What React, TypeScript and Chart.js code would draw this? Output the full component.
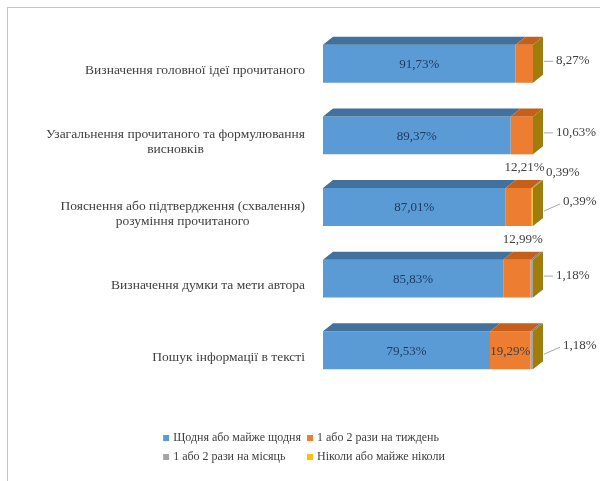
import React, { useEffect, useRef } from "react";
import { Chart, registerables } from "chart.js";

Chart.register(...registerables);

// ---- data ----
const categories: string[][] = [
  ["Визначення головної ідеї прочитаного"],
  ["Узагальнення прочитаного та формулювання", "висновків"],
  ["Пояснення або підтвердження (схвалення)", "розуміння прочитаного"],
  ["Визначення думки та мети автора"],
  ["Пошук інформації в тексті"],
];
const seriesNames = [
  "Щодня або майже щодня",
  "1 або 2 рази на тиждень",
  "1 або 2 рази на місяць",
  "Ніколи або майже ніколи",
];
const daily = [91.73, 89.37, 87.01, 85.83, 79.53];
const weekly = [8.27, 10.63, 12.21, 12.99, 19.29];
const monthly = [0, 0, 0.39, 1.18, 1.18];
const never = [0, 0, 0.39, 0, 0];

// label placement per series (style only)
const dailyLabelPos = ["inside", "inside", "inside", "inside", "inside"];
const weeklyLabelPos = ["right", "right", "above", "above", "inside"];
const monthlyLabelPos = ["", "", "aboveRight", "right", "rightFar"];
const neverLabelPos = ["", "", "rightFar", "", ""];

const frontColors = ["#5B9BD5", "#ED7D31", "#A5A5A5", "#FFC000"];
const topColors = ["#41719C", "#C55F1A", "#7F7F7F", "#BF9000"];
const sideColor = "#A07D0A";
const DX = 10;
const DY = 8;
const FONT = '"Liberation Serif", "Times New Roman", serif';

const fmt = (v: number) => v.toFixed(2).replace(".", ",") + "%";

const threeD = {
  id: "threeD",
  afterDatasetsDraw(chart: any) {
    const ctx = chart.ctx;
    const n = chart.data.labels.length;
    ctx.save();
    for (let i = 0; i < n; i++) {
      let xEnd = -Infinity;
      let top = 0;
      let bottom = 0;
      chart.data.datasets.forEach((ds: any, d: number) => {
        const el = chart.getDatasetMeta(d).data[i];
        const v = ds.data[i];
        top = el.y - el.height / 2;
        bottom = el.y + el.height / 2;
        if (el.x > xEnd) xEnd = el.x;
        if (v <= 0) return;
        const l = Math.min(el.base, el.x);
        const r = Math.max(el.base, el.x);
        ctx.fillStyle = topColors[d];
        ctx.beginPath();
        ctx.moveTo(l, top);
        ctx.lineTo(r, top);
        ctx.lineTo(r + DX, top - DY);
        ctx.lineTo(l + DX, top - DY);
        ctx.closePath();
        ctx.fill();
      });
      ctx.fillStyle = sideColor;
      ctx.beginPath();
      ctx.moveTo(xEnd, top);
      ctx.lineTo(xEnd + DX, top - DY);
      ctx.lineTo(xEnd + DX, bottom - DY);
      ctx.lineTo(xEnd, bottom);
      ctx.closePath();
      ctx.fill();
    }
    ctx.restore();
  },
  afterDraw(chart: any) {
    const ctx = chart.ctx;
    const n = chart.data.labels.length;
    const positions = [dailyLabelPos, weeklyLabelPos, monthlyLabelPos, neverLabelPos];
    ctx.save();
    ctx.font = `13px ${FONT}`;
    ctx.textBaseline = "middle";
    for (let i = 0; i < n; i++) {
      let xEnd = -Infinity;
      chart.data.datasets.forEach((ds: any, d: number) => {
        const el = chart.getDatasetMeta(d).data[i];
        if (el.x > xEnd) xEnd = el.x;
      });
      chart.data.datasets.forEach((ds: any, d: number) => {
        const v = ds.data[i];
        const mode = positions[d][i];
        if (!(v > 0) || !mode) return;
        const el = chart.getDatasetMeta(d).data[i];
        const l = Math.min(el.base, el.x);
        const r = Math.max(el.base, el.x);
        const top = el.y - el.height / 2;
        const text = fmt(v);
        ctx.strokeStyle = "#A6A6A6";
        ctx.lineWidth = 1;
        if (mode === "inside") {
          ctx.fillStyle = d === 0 ? "#1F3B63" : "#404040";
          ctx.textAlign = "center";
          ctx.fillText(text, (l + r) / 2, el.y + 1);
        } else if (mode === "right") {
          const y = el.y - 3;
          const x = xEnd + DX + 13;
          ctx.beginPath();
          ctx.moveTo(xEnd + DX + 1, y + 0.5);
          ctx.lineTo(x - 3, y + 0.5);
          ctx.stroke();
          ctx.fillStyle = "#404040";
          ctx.textAlign = "left";
          ctx.fillText(text, x, y);
        } else if (mode === "rightFar") {
          const y = el.y - 5;
          const x = xEnd + DX + 20;
          ctx.beginPath();
          ctx.moveTo(xEnd + DX + 1, el.y + 4);
          ctx.lineTo(x - 3, y + 2);
          ctx.stroke();
          ctx.fillStyle = "#404040";
          ctx.textAlign = "left";
          ctx.fillText(text, x, y);
        } else if (mode === "above") {
          ctx.fillStyle = "#404040";
          ctx.textAlign = "center";
          ctx.fillText(text, (l + r) / 2 + 6, top - DY - 12);
        } else if (mode === "aboveRight") {
          ctx.fillStyle = "#404040";
          ctx.textAlign = "left";
          ctx.fillText(text, xEnd + DX + 3, top - DY - 7);
        }
      });
    }

    // category labels
    const ys = chart.scales.y;
    ctx.font = `13.5px ${FONT}`;
    ctx.fillStyle = "#404040";
    ctx.textAlign = "center";
    const labelRight = ys.right - 18;
    const lineH = 15;
    (chart.data.labels as string[][]).forEach((lines, i) => {
      const cy = ys.getPixelForTick(i) + 7;
      const maxW = Math.max(...lines.map((t) => ctx.measureText(t).width));
      const cx = labelRight - maxW / 2;
      lines.forEach((t, k) => {
        ctx.fillText(t, cx, cy + (k - (lines.length - 1) / 2) * lineH);
      });
    });

    // legend (2 x 2 grid)
    ctx.font = `12px ${FONT}`;
    const names = chart.data.datasets.map((ds: any) => ds.label);
    const box = 6;
    const gap = 4;
    const colW = Math.max(ctx.measureText(names[0]).width, ctx.measureText(names[2]).width) + box + gap + 6;
    const col2W = Math.max(ctx.measureText(names[1]).width, ctx.measureText(names[3]).width) + box + gap;
    const totalW = colW + col2W;
    const x0 = chart.width / 2 - totalW / 2;
    const rows = [chart.chartArea.bottom + 52, chart.chartArea.bottom + 71];
    ctx.textAlign = "left";
    names.forEach((name: string, k: number) => {
      const col = k % 2;
      const row = Math.floor(k / 2);
      const x = x0 + col * colW;
      const y = rows[row];
      ctx.fillStyle = frontColors[k];
      ctx.fillRect(x, y - box / 2, box, box);
      ctx.fillStyle = "#404040";
      ctx.fillText(name, x + box + gap, y);
    });
    ctx.restore();
  },
};

export default function App() {
  const ref = useRef<HTMLCanvasElement>(null);
  useEffect(() => {
    const seriesValues = [daily, weekly, monthly, never];
    const chart = new Chart(ref.current as HTMLCanvasElement, {
      type: "bar",
      data: {
        labels: categories as any,
        datasets: seriesValues.map((vals, d) => ({
          label: seriesNames[d],
          data: vals,
          backgroundColor: frontColors[d],
          borderWidth: 0,
          categoryPercentage: 0.53,
          barPercentage: 1,
        })),
      },
      options: {
        indexAxis: "y",
        responsive: true,
        maintainAspectRatio: false,
        animation: false,
        layout: { padding: { top: 20, right: 67, bottom: 95, left: 0 } },
        scales: {
          x: { stacked: true, min: 0, max: 100, display: false },
          y: {
            stacked: true,
            grid: { display: false },
            border: { display: false },
            ticks: { display: false },
            afterFit: (s: any) => {
              s.width = 315;
            },
          },
        },
        plugins: {
          legend: { display: false },
          tooltip: { enabled: false },
        },
      },
      plugins: [threeD],
    } as any);
    return () => chart.destroy();
  }, []);
  return (
    <div
      style={{
        position: "absolute",
        left: 7,
        top: 7,
        width: 593,
        height: 474,
        boxSizing: "border-box",
        borderLeft: "1px solid #c4c4c4",
        borderTop: "1px solid #c4c4c4",
        background: "#fff",
      }}
    >
      <div style={{ position: "relative", width: 592, height: 473 }}>
        <canvas ref={ref} />
      </div>
    </div>
  );
}
